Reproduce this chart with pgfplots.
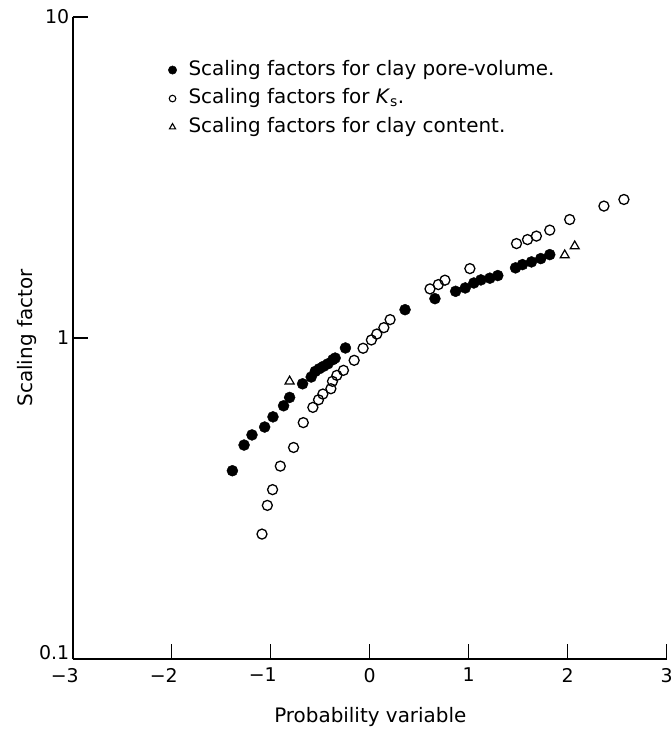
\documentclass[border=0pt]{standalone}
\usepackage{pgfplots}
\pgfplotsset{compat=1.18}
\usepackage{fontspec}
\setmainfont{DejaVu Sans}
\begin{document}
\begin{tikzpicture}
\begin{axis}[
  scale only axis, width=594bp, height=642bp,
  xmin=-3, xmax=3, ymode=log, ymin=0.1, ymax=10,
  axis lines*=left, axis line style={line width=1.8bp},
  tick align=inside, major tick length=15bp,
  tick style={line width=1.4bp, black},
  xtick={-3,-2,-1,0,1,2,3}, xticklabels={\llap{−}3,\llap{−}2,\llap{−}1,0,1,2,3},
  ytick={0.1,1,10}, yticklabels={\smash{0.1},1,10},
  yminorticks=false, xminorticks=false,
  ticklabel style={font=\fontsize{19}{22}\selectfont},
  xticklabel style={yshift=-5.5bp},
  xlabel={Probability variable}, ylabel={Scaling factor},
  every axis x label/.style={at={(rel axis cs:0.501,-0.0983)}, anchor=base, font=\fontsize{20}{24}\selectfont},
  every axis y label/.style={at={(rel axis cs:-0.0773,0.5)}, rotate=90, anchor=center, font=\fontsize{20}{24}\selectfont},
  clip=false,
  legend style={draw=none, fill=none, inner sep=0pt, outer sep=0pt,
    at={(rel axis cs:0.161,0.9345)}, anchor=north west,
    font=\fontsize{20}{24}\selectfont, row sep=6.5bp, cells={anchor=west},
    nodes={inner sep=2bp, text height=14bp, text depth=4bp}},
  legend image code/.code={\draw[#1] plot coordinates {(0bp,0bp)}; \path[draw=none,fill=none] (-4bp,0bp) -- (14bp,0bp);},
]
\coordinate (bl) at (rel axis cs:0,0);
\coordinate (tr) at (rel axis cs:1,1);
% legend images
\addlegendimage{only marks, mark=*, mark size=4.2bp, black}
\addlegendentry{Scaling factors for clay pore-volume.}
\addlegendimage{only marks, mark=o, mark size=3.3bp, black, line width=1.1bp}
\addlegendentry{Scaling factors for \textit{K}\textsubscript{s}.}
\addlegendimage{only marks, mark=triangle, mark size=3.5bp, black, line width=1.1bp}
\addlegendentry{Scaling factors for clay content.}
% clay pore-volume
\addplot[only marks, mark=*, mark size=5.5bp, black, forget plot] coordinates {
(-1.387,0.386) (-1.269,0.464) (-1.189,0.499) (-1.061,0.528) (-0.977,0.568)
(-0.870,0.615) (-0.809,0.653) (-0.678,0.720) (-0.591,0.756) (-0.550,0.787)
(-0.510,0.802) (-0.467,0.816) (-0.422,0.831) (-0.372,0.856) (-0.349,0.866)
(-0.245,0.931) (0.357,1.225) (0.659,1.326) (0.868,1.398) (0.965,1.432)
(1.052,1.484) (1.123,1.517) (1.214,1.536) (1.294,1.565) (1.473,1.654)
(1.543,1.693) (1.634,1.726) (1.728,1.768) (1.819,1.819)
};
% Ks
\addplot[only marks, mark=o, mark size=5bp, black, line width=1.3bp, forget plot] coordinates {
(-1.088,0.245) (-1.034,0.301) (-0.981,0.337) (-0.903,0.399) (-0.769,0.456)
(-0.671,0.545) (-0.574,0.608) (-0.517,0.642) (-0.473,0.669) (-0.392,0.695)
(-0.376,0.733) (-0.332,0.765) (-0.265,0.793) (-0.157,0.852) (-0.067,0.929)
(0.017,0.986) (0.072,1.029) (0.143,1.077) (0.206,1.141) (0.609,1.422)
(0.693,1.467) (0.760,1.514) (1.012,1.645) (1.483,1.969) (1.594,2.026)
(1.684,2.077) (1.819,2.168) (2.020,2.339) (2.366,2.576) (2.568,2.701)
};
% clay content
\addplot[only marks, mark=triangle, mark size=5.2bp, black, line width=1.2bp, forget plot] coordinates {
(-0.809,0.733) (1.970,1.811) (2.071,1.932)
};
\end{axis}
\pgfresetboundingbox
\path ([xshift=-72.7bp,yshift=-72bp]bl) rectangle ([xshift=5bp,yshift=17bp]tr);
\end{tikzpicture}
\end{document}
